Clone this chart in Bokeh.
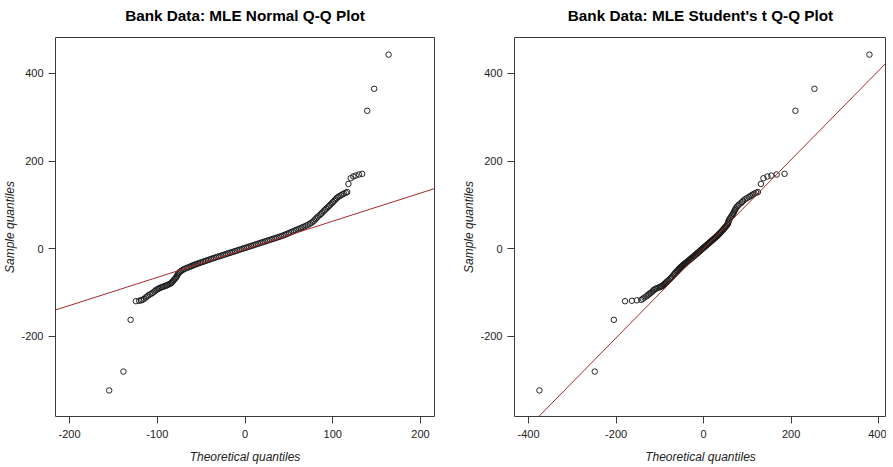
from bokeh.plotting import figure
from bokeh.layouts import row
from bokeh.models import FixedTicker, ColumnDataSource, LinearAxis
from bokeh.embed import file_html
from bokeh.resources import INLINE

# ---- data (sorted sample quantiles and matching theoretical quantiles)
sample_q = [-323, -280, -162, -119.5, -118.5, -117.5, -116.5, -114, -111, -108.5,
            -106, -104, -102, -100, -97.5, -95, -93, -91.5, -90, -88.5,
            -87.5, -86.3, -85.3, -84.3, -83, -81.5, -80, -78.5, -76.5, -74,
            -71.5, -69, -66.5, -64, -61, -58, -55, -52.5, -50.5, -48.5,
            -46.5, -45, -43.5, -42, -40.5, -39.3, -38, -36.8, -35.6, -34.4,
            -33.2, -32, -30.8, -29.6, -28.3, -27, -25.8, -24.5, -23.2, -22,
            -20.7, -19.5, -18.2, -17, -15.7, -14.4, -13.1, -11.8, -10.5, -9.2,
            -7.9, -6.6, -5.3, -4, -2.7, -1.4, -0.1, 1.2, 2.5, 3.8,
            5.1, 6.4, 7.7, 9, 10.3, 11.6, 12.9, 14.2, 15.5, 16.8,
            18.1, 19.4, 20.7, 22, 23.3, 24.6, 25.9, 27.2, 28.6, 30,
            31.5, 33, 34.6, 36.2, 37.8, 39.4, 41, 42.7, 44.4, 46.1,
            47.8, 49.5, 51.3, 53.2, 55.2, 57.3, 59.6, 62, 64.5, 67.5,
            70.5, 73.5, 76.5, 79.5, 82.5, 85.5, 88.5, 91.5, 94.5, 97.5,
            100.5, 103.5, 106.5, 109.5, 112.5, 115.5, 118, 120, 122, 124,
            126, 128, 129.5, 148, 161, 165, 167, 169.5, 171, 314.8,
            365, 443]

normal_q = [-154.8, -138.6, -130.4, -124.4, -120.6, -118.5, -116.8, -115, -113, -111.5,
            -110, -108.2, -106.5, -105, -103.3, -102, -100.5, -99, -97.8, -96.2,
            -94.8, -93.2, -91.7, -90.3, -88.8, -87.3, -85.8, -84.3, -83.3, -82.3,
            -81.2, -80.2, -79, -78.2, -77.3, -76.5, -75.5, -74.2, -72.8, -71.2,
            -69.8, -68, -66.2, -64.2, -62.3, -61, -59.5, -58, -56.4, -54.8,
            -53.1, -51.4, -49.6, -47.8, -46, -44.2, -42.4, -40.6, -38.8, -37,
            -35.1, -33.2, -31.2, -29.2, -27.2, -25.2, -23.2, -21.2, -19.2, -17.2,
            -15.2, -13.2, -11.2, -9.2, -7.2, -5.2, -3.2, -1.2, 0.8, 2.8,
            4.8, 6.8, 8.8, 10.8, 12.8, 14.8, 16.8, 18.8, 20.8, 22.8,
            24.8, 26.8, 28.8, 30.8, 32.8, 34.8, 36.8, 38.8, 40.8, 42.8,
            44.9, 46.7, 48.6, 50.4, 52.3, 54.2, 56.1, 58, 60, 62,
            64, 66, 68.1, 70.1, 72.1, 74, 75.8, 77.4, 78.8, 80.2,
            81.6, 83, 85, 86.5, 88, 89.5, 91, 92.6, 94.2, 95.7,
            97.2, 98.7, 100.2, 101.6, 103, 104.5, 106, 107.6, 109.3, 111,
            112.8, 114.9, 116.5, 117.9, 120.5, 123.5, 126.2, 129.9, 133.6, 139.3,
            147.2, 163.7]

t_q = [-375.2, -248.9, -205.2, -179.7, -163.9, -152.6, -142.5, -139, -135.5, -131,
       -128, -125.5, -123, -120.5, -117, -115, -113, -110, -107.5, -103,
       -100, -98, -96, -94.5, -92.5, -90.5, -89, -87.5, -85.5, -83,
       -80, -77, -74.5, -72.5, -70, -67.5, -65, -62.5, -60.5, -58.5,
       -57, -55.5, -54, -52.5, -51, -49.5, -48, -46.5, -45, -43.5,
       -42, -40.5, -39, -37.5, -36, -34.5, -33, -31.5, -30, -28.5,
       -27, -25.5, -24, -22.5, -21, -19.5, -18, -16.5, -15, -13.5,
       -12, -10.5, -9, -7.5, -6, -4.5, -3, -1.5, 0, 1.5,
       3, 4.5, 6, 7.5, 9, 10.5, 12, 13.5, 15, 16.5,
       18, 19.5, 21, 22.5, 24, 25.5, 27, 28.5, 30, 31.5,
       33, 34.5, 36, 37.5, 39, 40.5, 42, 43.5, 45, 46.5,
       48, 49.5, 51, 52.5, 54, 55.5, 56, 56.5, 57.5, 59,
       61, 63, 65, 67, 68.5, 70, 71.5, 73, 75, 77.5,
       80, 84, 87.5, 90.5, 94, 98.5, 103, 106.5, 109.5, 112.5,
       116, 120, 124, 130.8, 136.6, 145.7, 154.7, 166.8, 184.9, 209.7,
       253.2, 378.8]

normal_line = (-1.1, 0.641)   # intercept, slope of the reference line
t_line = (0.2, 1.016)

left_xticks = [-200, -100, 0, 100, 200]
right_xticks = [-400, -200, 0, 200, 400]
yticks = [-200, 0, 200, 400]

titles = ["Bank Data: MLE Normal Q-Q Plot", "Bank Data: MLE Student's t Q-Q Plot"]
xlabel = "Theoretical quantiles"
ylabel = "Sample quantiles"

FONT = "Liberation Sans"
FRAME = "#3a3a3a"
LINE_RED = "#A52A2A"
YR = (-382.5, 482)


def make_fig(title, xq, xr, xticks, line, width, mb_right):
    p = figure(width=width, height=467, x_range=xr, y_range=YR,
               output_backend="svg", toolbar_location=None,
               min_border_left=50, min_border_right=mb_right,
               min_border_top=37, min_border_bottom=51)
    p.grid.visible = False
    p.background_fill_color = "white"
    p.border_fill_color = "white"
    p.outline_line_color = FRAME
    for ax, ticks, lab in ((p.xaxis[0], xticks, xlabel), (p.yaxis[0], yticks, ylabel)):
        ax.ticker = FixedTicker(ticks=ticks)
        ax.major_label_overrides = {t: str(t) for t in ticks}
        ax.minor_tick_line_color = None
        ax.major_tick_in = 0
        ax.major_tick_out = 7
        ax.major_tick_line_color = FRAME
        ax.axis_line_color = None
        ax.major_label_text_font = FONT
        ax.major_label_text_font_size = "11px"
        ax.major_label_text_color = "#222222"
        ax.axis_label = lab
        ax.axis_label_text_font = FONT
        ax.axis_label_text_font_size = "12px"
        ax.axis_label_text_font_style = "italic"
        ax.axis_label_text_color = "#222222"
    p.xaxis.major_label_standoff = 6
    p.xaxis.axis_label_standoff = 9
    p.yaxis.major_label_standoff = 5
    p.yaxis.axis_label_standoff = 1
    # title: carried as the label of a bare axis above the box
    top = LinearAxis(ticker=FixedTicker(ticks=[]), axis_line_color=None,
                     major_tick_line_color=None, minor_tick_line_color=None,
                     major_tick_in=0, major_tick_out=0, major_label_standoff=0,
                     axis_label=title, axis_label_standoff=14,
                     axis_label_text_font=FONT, axis_label_text_font_size="15.3px",
                     axis_label_text_font_style="bold", axis_label_text_color="#000000")
    p.add_layout(top, "above")
    src = ColumnDataSource(data=dict(x=xq, y=sample_q))
    p.scatter("x", "y", source=src, marker="circle", size=5.5, fill_color=None,
              line_color="#1a1a1a", line_width=0.95)
    # reference line y = a + b x, cut to where it leaves the box
    a, b = line
    x0 = max(xr[0], (YR[0] - a) / b)
    x1 = min(xr[1], (YR[1] - a) / b)
    p.line([x0, x1], [a + b * x0, a + b * x1], line_color=LINE_RED, line_width=1)
    return p


p1 = make_fig(titles[0], normal_q, (-216, 216), left_xticks, normal_line, 459, 25)
# right box runs past the window edge, as in the reference
p2 = make_fig(titles[1], t_q, (-432.2, 417.8), right_xticks, t_line, 427, 0)

layout = row(p1, p2)
open("out.html", "w").write(file_html(layout, INLINE))
